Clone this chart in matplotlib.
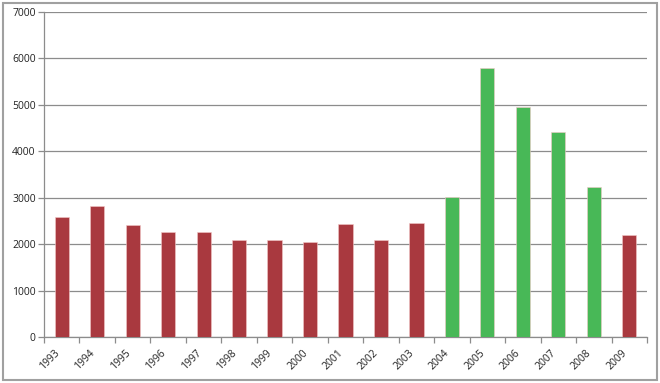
import matplotlib
matplotlib.use("Agg")
import matplotlib.pyplot as plt
from matplotlib.patches import Rectangle
from matplotlib.transforms import ScaledTranslation

years = ["1993", "1994", "1995", "1996", "1997", "1998", "1999", "2000", "2001",
         "2002", "2003", "2004", "2005", "2006", "2007", "2008", "2009"]
values = [2590, 2830, 2420, 2255, 2255, 2090, 2090, 2050, 2435,
          2090, 2455, 3010, 5800, 4955, 4410, 3225, 2205]
highlight = [False] * 11 + [True] * 5 + [False]
yticks = [0, 1000, 2000, 3000, 4000, 5000, 6000, 7000]

RED = "#a9393f"
GREEN = "#48b857"
GRID = "#8c8c8c"

plt.rcParams['font.family'] = ['Open Sans', 'DejaVu Sans']

fig = plt.figure(figsize=(6.6, 3.83), dpi=100)
ax = fig.add_axes([44/660, 1 - 337.3/383, (647-44)/660, (337.3-11.7)/383])

x = list(range(len(years)))
colors = [GREEN if h else RED for h in highlight]
ax.bar(x, values, width=0.4, color=colors, edgecolor="#f2c8c8", linewidth=0.4, zorder=3)

ax.set_xlim(-0.5, len(years) - 0.5)
ax.set_ylim(0, 7000)
ax.set_yticks(yticks)
ax.set_yticklabels([str(v) for v in yticks], fontsize=7.5, color="#222222")
ax.yaxis.grid(True, color=GRID, linewidth=0.9, zorder=0)
ax.set_axisbelow(True)

ax.set_xticks(x)
ax.set_xticklabels(years, rotation=45, ha="right", rotation_mode="anchor", fontsize=7.5, color="#222222")
ax.tick_params(axis="x", length=0, pad=6)
offset = ScaledTranslation(-0.08, -0.02, fig.dpi_scale_trans)
for lbl in ax.get_xticklabels():
    lbl.set_transform(lbl.get_transform() + offset)
ax.set_xticks([i - 0.5 for i in range(len(years) + 1)], minor=True)
ax.tick_params(axis="x", which="minor", length=4, color=GRID, width=0.9)
ax.tick_params(axis="y", length=4, color=GRID, width=0.9, pad=2)

for s in ["top", "right"]:
    ax.spines[s].set_visible(False)
for s in ["left", "bottom"]:
    ax.spines[s].set_color(GRID)
    ax.spines[s].set_linewidth(0.9)

fig.patches.append(Rectangle((3/660, 3/383), 654/660, 377/383, transform=fig.transFigure,
                             fill=False, edgecolor="#a0a0a0", linewidth=1.5))

fig.savefig("out.png", dpi=100)
